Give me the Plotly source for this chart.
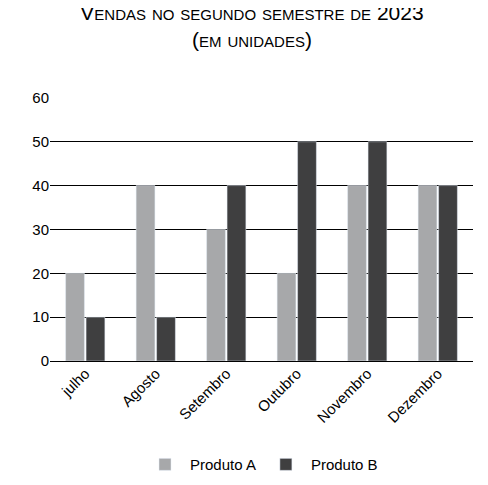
import plotly.graph_objects as go

meses = ["julho", "Agosto", "Setembro", "Outubro", "Novembro", "Dezembro"]
produto_a = [20, 40, 30, 20, 40, 40]
produto_b = [10, 10, 40, 50, 50, 40]

fig = go.Figure()
fig.add_bar(x=meses, y=produto_a, name="Produto A", marker_color="#a7a8aa")
fig.add_bar(x=meses, y=produto_b, name="Produto B", marker_color="#3f3f40")

fig.update_layout(
    width=488, height=485,
    paper_bgcolor="white", plot_bgcolor="white",
    font=dict(family="Liberation Sans, Arial", size=15, color="black"),
    title=dict(text="Vendas no segundo semestre de 2023<br>(em unidades)",
               x=0.5, xanchor="center", y=0.975, yanchor="top",
               font=dict(size=21, variant="small-caps")),
    margin=dict(l=42, r=23, t=89, b=129),
    barmode="group", bargap=0.42, bargroupgap=0.08,
    legend=dict(orientation="h", x=0.5, xanchor="center", y=-0.33, yanchor="top",
                font=dict(size=15), itemwidth=40),
    showlegend=True,
)
fig.update_yaxes(range=[0, 60.2], dtick=10, showgrid=True, gridcolor="black", gridwidth=1,
                 zeroline=True, zerolinecolor="black", zerolinewidth=1, ticks="", tickfont=dict(size=15))
fig.update_xaxes(tickangle=-45, showline=False, tickfont=dict(size=15))

fig.write_html("out.html")
